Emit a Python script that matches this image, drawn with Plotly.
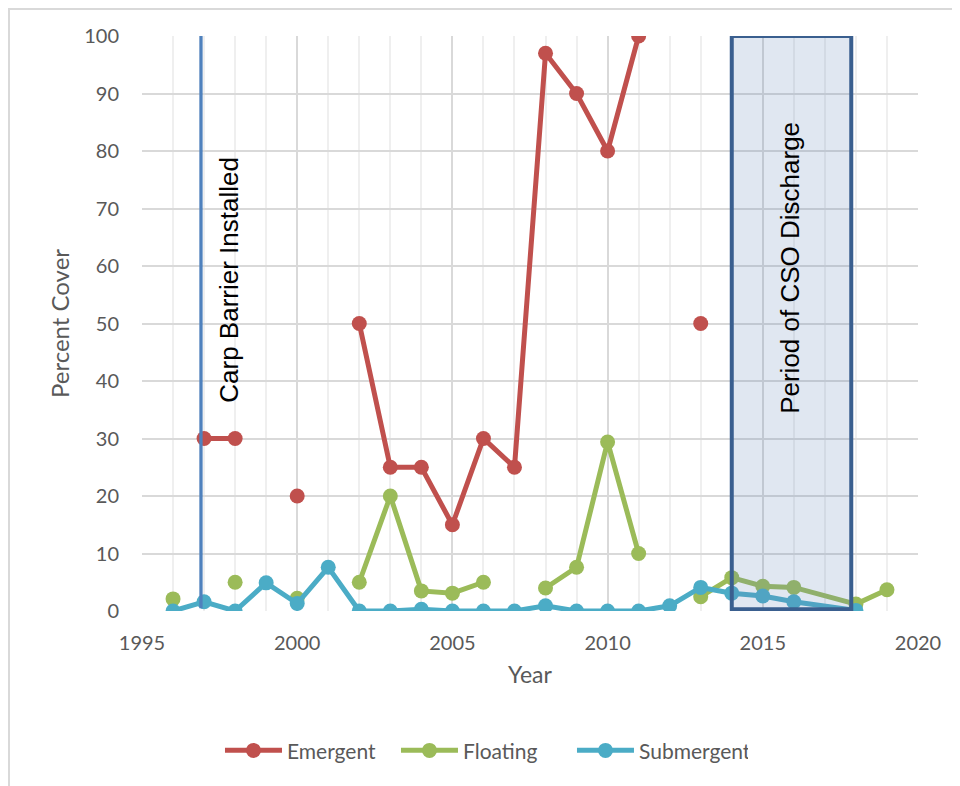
import plotly.graph_objects as go

# Data
emergent_years = [1996, 1997, 1998, 1999, 2000, 2001, 2002, 2003, 2004, 2005, 2006, 2007,
                  2008, 2009, 2010, 2011, 2012, 2013]
emergent_vals = [None, 30, 30, None, 20, None, 50, 25, 25, 15, 30, 25,
                 97, 90, 80, 100, None, 50]

floating_years = [1996, 1997, 1998, 1999, 2000, 2001, 2002, 2003, 2004, 2005, 2006, 2007,
                  2008, 2009, 2010, 2011, 2012, 2013, 2014, 2015, 2016, 2018, 2019]
floating_vals = [2.1, None, 5.0, None, 2.2, None, 5.0, 20, 3.5, 3.1, 5.0, None,
                 4.0, 7.6, 29.4, 10.0, None, 2.5, 5.8, 4.3, 4.1, 1.2, 3.7]

submergent_years = [1996, 1997, 1998, 1999, 2000, 2001, 2002, 2003, 2004, 2005, 2006, 2007,
                    2008, 2009, 2010, 2011, 2012, 2013, 2014, 2015, 2016, 2018]
submergent_vals = [0, 1.6, 0, 4.9, 1.3, 7.6, 0, 0, 0.3, 0, 0, 0,
                   0.9, 0, 0, 0, 0.9, 4.1, 3.1, 2.6, 1.6, 0.1]

carp_year = 1996.9
cso_start, cso_end = 2014.0, 2017.85

fig = go.Figure()
series = [
    ("Emergent", emergent_years, emergent_vals, "#c0504d"),
    ("Floating", floating_years, floating_vals, "#9bbb59"),
    ("Submergent", submergent_years, submergent_vals, "#4bacc6"),
]
for name, xs, ys, col in series:
    fig.add_trace(go.Scatter(
        x=xs, y=ys, name=name, mode="lines+markers",
        line=dict(color=col, width=5), marker=dict(color=col, size=15),
        connectgaps=False,
    ))

# Carp barrier line
fig.add_shape(type="line", xref="x", yref="y", x0=carp_year, x1=carp_year, y0=0.5, y1=100,
              line=dict(color="#4f81bd", width=3.3), layer="above")
# CSO box
fig.add_shape(type="rect", xref="x", yref="y", x0=cso_start, x1=cso_end, y0=0.3, y1=100,
              line=dict(color="#3a5f8f", width=4), fillcolor="rgba(100,135,185,0.2)", layer="above")
# Outer chart border
fig.add_shape(type="rect", xref="paper", yref="paper", x0=-0.1714, x1=1.08, y0=-0.35, y1=1.047,
              line=dict(color="#d9d9d9", width=2), fillcolor="rgba(0,0,0,0)", layer="below")

fig.add_annotation(x=1997.8, y=57.6, text="Carp Barrier Installed", textangle=-90,
                   showarrow=False, font=dict(size=26, color="#000000", family="Liberation Sans"))
fig.add_annotation(x=2015.88, y=59.7, text="Period of CSO Discharge", textangle=-90,
                   showarrow=False, font=dict(size=26, color="#000000", family="Liberation Sans"))

fig.update_layout(
    width=952, height=778,
    margin=dict(l=134, r=42, t=28, b=175),
    paper_bgcolor="white", plot_bgcolor="white",
    font=dict(family="Lato", color="#595959", size=20),
    xaxis=dict(range=[1995, 2020], dtick=5, tick0=1995, showgrid=True, gridcolor="#d9d9d9",
               gridwidth=1.5, zeroline=False, showline=False, ticks="", ticklabelstandoff=18,
               minor=dict(dtick=1, showgrid=True, gridcolor="#efefef", gridwidth=1.5),
               title=dict(text="Year", font=dict(size=23, color="#595959"), standoff=13),
               tickfont=dict(size=20, color="#595959")),
    yaxis=dict(range=[0, 100], dtick=10, showgrid=True, gridcolor="#d9d9d9", gridwidth=1.5,
               zeroline=False, showline=False, ticks="", ticklabelstandoff=22,
               title=dict(text="Percent Cover", font=dict(size=24, color="#595959"), standoff=7),
               tickfont=dict(size=20, color="#595959")),
    legend=dict(orientation="h", x=0.1005, xanchor="left", y=-0.243, yanchor="middle",
                font=dict(size=21, color="#595959"), itemwidth=57, entrywidth=104,
                bgcolor="rgba(0,0,0,0)"),
    showlegend=True,
)

fig.write_html("out.html")
